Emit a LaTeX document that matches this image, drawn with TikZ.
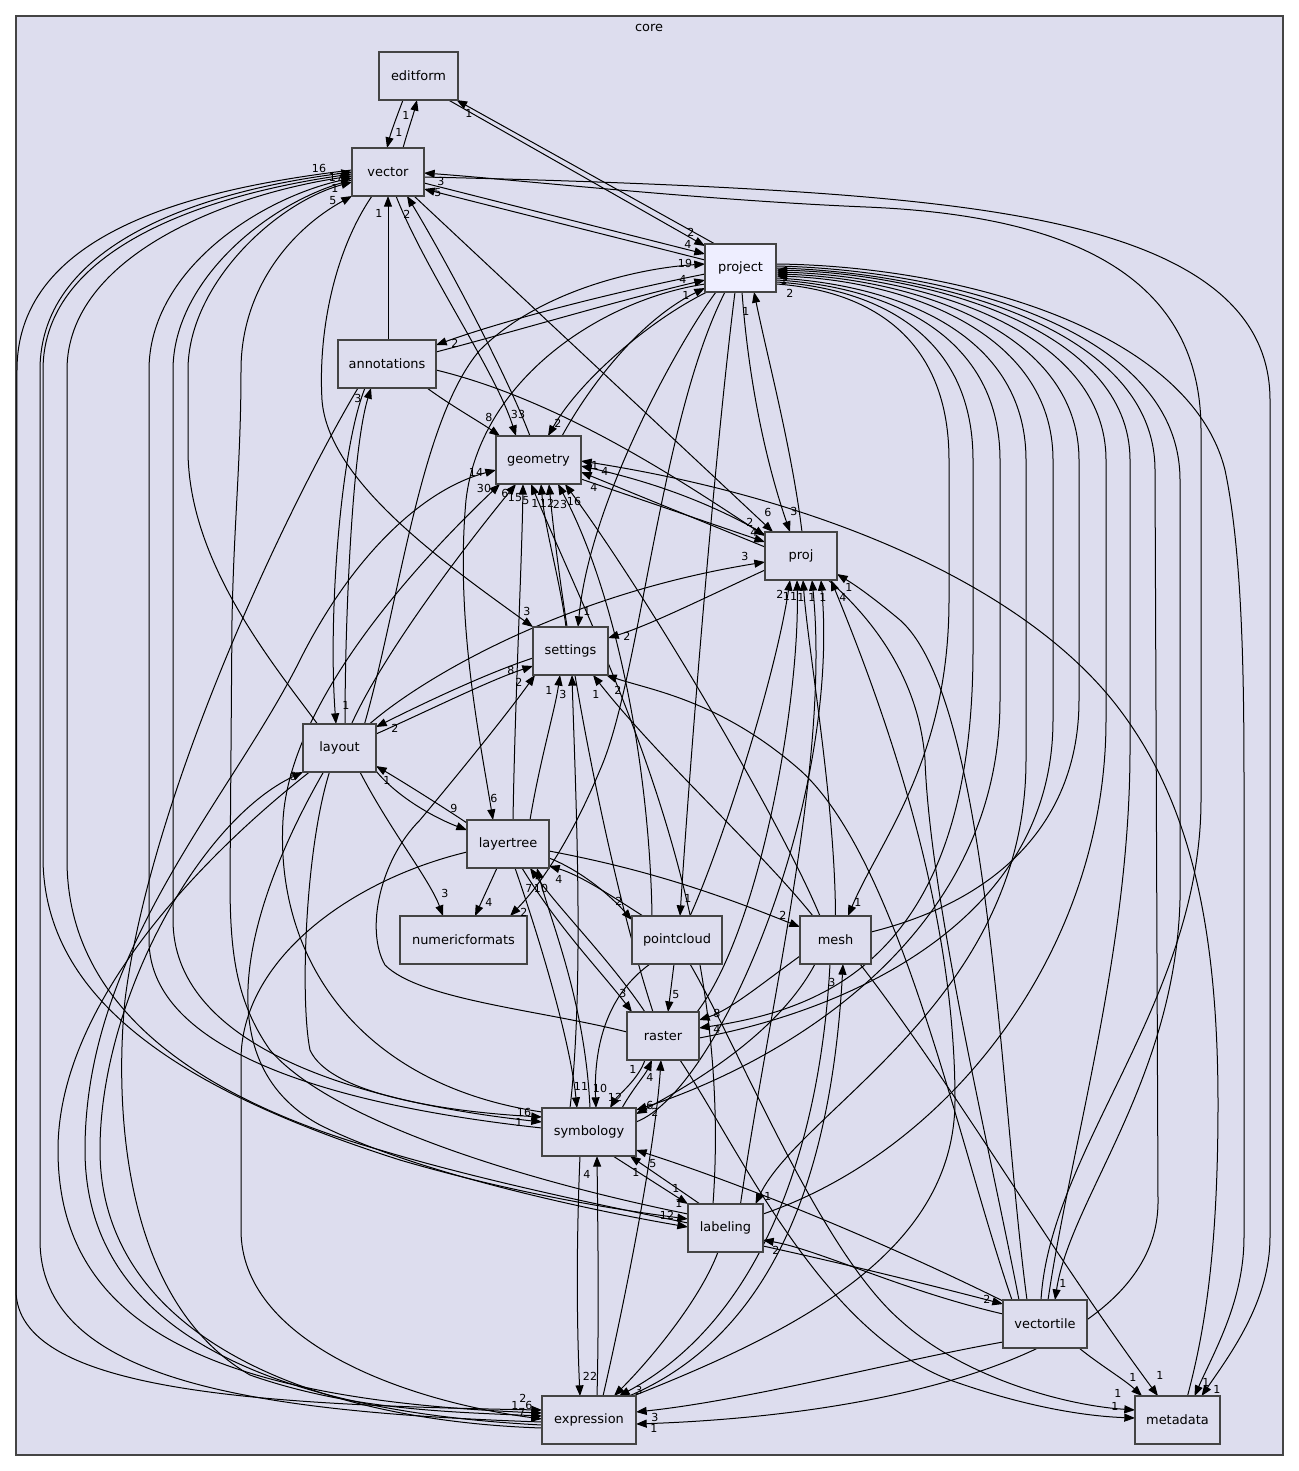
\documentclass[tikz,border=0pt]{standalone}
\usepackage{fontspec}
\setmainfont{DejaVu Sans}
\usetikzlibrary{arrows.meta,calc}
\definecolor{clfill}{HTML}{DDDDEE}
\definecolor{hifill}{HTML}{EEEEFF}
\definecolor{bord}{HTML}{444444}
\pgfdeclarelayer{back}
\pgfdeclarelayer{edges}
\pgfsetlayers{back,edges,main}
\begin{document}
\begin{tikzpicture}[x=0.75pt,y=-0.75pt,
 dirbox/.style={draw=bord,line width=1.1pt,fill=clfill,minimum width=#1,minimum height=36pt,inner sep=0pt,font=\fontsize{9.7}{11}\selectfont},
 dep/.style={line width=0.75pt,-{Triangle[length=8pt,width=6pt]}},
 lb/.style={inner sep=0pt,font=\fontsize{8.3}{9}\selectfont}]
\begin{pgfonlayer}{back}
\useasboundingbox (0,0) rectangle (1299,1471);
\fill[white] (0,0) rectangle (1299,1471);
\draw[bord,line width=1.1pt,fill=clfill] (16,16) rectangle (1283,1455);
\end{pgfonlayer}
\node[font=\fontsize{9.7}{11}\selectfont] (core) at (649,28) {core};
% nodes
\node[dirbox=59.25pt] (editform) at (418.5,76) {editform};
\node[dirbox=54pt] (vector) at (388,172) {vector};
\node[dirbox=53.25pt,fill=hifill] (project) at (740.5,268) {project};
\node[dirbox=73.5pt] (annotations) at (387,364) {annotations};
\node[dirbox=63.75pt] (geometry) at (538.5,460) {geometry};
\node[dirbox=54pt] (proj) at (801,556) {proj};
\node[dirbox=56.25pt] (settings) at (570.5,651) {settings};
\node[dirbox=54.75pt] (layout) at (339.5,748) {layout};
\node[dirbox=61.5pt] (layertree) at (508,844) {layertree};
\node[dirbox=95.25pt] (numericformats) at (463.5,940) {numericformats};
\node[dirbox=67.5pt] (pointcloud) at (677,940) {pointcloud};
\node[dirbox=53.25pt] (mesh) at (835.5,940) {mesh};
\node[dirbox=54pt] (raster) at (663,1036) {raster};
\node[dirbox=70.5pt] (symbology) at (589,1132) {symbology};
\node[dirbox=56.25pt] (labeling) at (725.5,1228) {labeling};
\node[dirbox=63pt] (vectortile) at (1045,1324) {vectortile};
\node[dirbox=70.5pt] (expression) at (589,1420) {expression};
\node[dirbox=63.75pt] (metadata) at (1177.5,1420) {metadata};
\begin{pgfonlayer}{edges}
% editform / vector / project
\draw[dep] ($(vector.center)+(15,-24)$) .. controls (408,130) and (413,116) .. ($(editform.center)+(-1.5,24)$);
\draw[dep] ($(editform.center)+(-15.5,24)$) .. controls (397,116) and (391,132) .. ($(vector.center)+(-1,-24)$);
\draw[dep] ($(project.center)+(-25.5,-24)$) -- ($(editform.center)+(38,24)$);
\draw[dep] ($(editform.center)+(30,24)$) -- ($(project.center)+(-35.5,-22)$);
\draw[dep] ($(vector.center)+(36,11)$) -- ($(project.center)+(-35.5,-14)$);
\draw[dep] ($(project.center)+(-35.5,-8)$) -- ($(vector.center)+(36,17)$);
\draw[dep] ($(vectortile.center)+(-4,-24)$) .. controls (1050,1150) and (1201,1000) .. (1201,800) -- (1201,430) .. controls (1201,270) and (1060,215) .. (866,207) .. controls (700,200) and (520,180) .. ($(vector.center)+(36,1)$);
\draw[dep] ($(vector.center)+(36,5)$) .. controls (560,180) and (740,186) .. (866,197) .. controls (1060,214) and (1270,250) .. (1270,400) -- (1270,1237) .. controls (1270,1300) and (1232,1352) .. ($(metadata.center)+(24,-24)$);
\draw[dep] ($(annotations.center)+(1,-24)$) -- ($(vector.center)+(0,24)$);
\draw[dep] ($(geometry.center)+(-8.5,-24)$) .. controls (505,370) and (440,250) .. ($(vector.center)+(19,24)$);
\draw[dep] ($(vector.center)+(8,24)$) .. controls (425,270) and (495,370) .. ($(geometry.center)+(-22.5,-24)$);
\draw[dep] ($(vector.center)+(26,24)$) -- ($(proj.center)+(-28,-24)$);
\draw[dep] ($(vector.center)+(-16,24)$) .. controls (335,250) and (318,330) .. (322,400) .. controls (328,480) and (440,560) .. ($(settings.center)+(-37.5,-24)$);
% left bundle
\draw[dep] ($(vector.center)+(-36,-2)$) .. controls (200,188) and (17,230) .. (17,370) -- (16,1290) .. controls (16,1390) and (250,1405) .. ($(expression.center)+(-47,-10)$);
\draw[dep] ($(expression.center)+(-47,2)$) .. controls (250,1412) and (40,1380) .. (40,1240) -- (40,370) .. controls (40,240) and (210,190) .. ($(vector.center)+(-36,0)$);
\draw[dep] ($(vector.center)+(-36,2)$) .. controls (215,192) and (43,245) .. (43,370) -- (43,860) .. controls (45,1000) and (180,1090) .. (400,1160) .. controls (520,1195) and (620,1210) .. ($(labeling.center)+(-37.5,-9)$);
\draw[dep] ($(labeling.center)+(-37.5,-5)$) .. controls (600,1205) and (480,1180) .. (380,1150) .. controls (170,1090) and (67,990) .. (67,860) -- (67,370) .. controls (67,255) and (230,194) .. ($(vector.center)+(-36,4)$);
\draw[dep] ($(symbology.center)+(-47,-4)$) .. controls (330,1105) and (149,1050) .. (149,940) -- (149,370) .. controls (149,270) and (260,198) .. ($(vector.center)+(-36,6)$);
\draw[dep] ($(vector.center)+(-36,8)$) .. controls (270,200) and (173,280) .. (173,370) -- (173,920) .. controls (173,1040) and (340,1100) .. ($(symbology.center)+(-47,-10)$);
\draw[dep] ($(layout.center)+(-22,-24)$) .. controls (270,660) and (188,560) .. (188,450) -- (188,370) .. controls (188,285) and (275,203) .. ($(vector.center)+(-36,10)$);
\draw[dep] ($(labeling.center)+(-37.5,-14)$) .. controls (520,1180) and (330,1120) .. (270,1050) .. controls (235,1000) and (230,950) .. (230,880) -- (232,620) .. controls (234,520) and (241,460) .. (241,370) .. controls (241,290) and (290,230) .. ($(vector.center)+(-36,24)$);
% geometry
\draw[dep] ($(annotations.center)+(40,24)$) .. controls (450,405) and (480,422) .. ($(geometry.center)+(-38.5,-24)$);
\draw[dep] ($(annotations.center)+(49,6)$) .. controls (560,400) and (680,480) .. ($(proj.center)+(-36,-20)$);
\draw[dep] ($(geometry.center)+(42.5,19)$) -- ($(proj.center)+(-36,-14)$);
\draw[dep] ($(proj.center)+(-36,-9)$) -- ($(geometry.center)+(42.5,12)$);
\draw[dep] ($(metadata.center)+(10,-24)$) .. controls (1205,1330) and (1218,1250) .. (1218,1104) .. controls (1218,900) and (1180,790) .. (1120,710) .. controls (1030,590) and (830,500) .. ($(geometry.center)+(42.5,1)$);
\draw[dep] ($(vectortile.center)+(-26,-24)$) .. controls (990,1150) and (930,900) .. (925,760) .. controls (915,620) and (780,510) .. ($(geometry.center)+(42.5,6)$);
\draw[dep] ($(layout.center)+(12,-24)$) .. controls (385,650) and (470,540) .. ($(geometry.center)+(-22.5,24)$);
\draw[dep] ($(symbology.center)+(-47,-20)$) .. controls (360,1085) and (275,960) .. (283,820) .. controls (290,700) and (420,560) .. ($(geometry.center)+(-38.5,24)$);
\draw[dep] ($(expression.center)+(-47,5)$) .. controls (250,1410) and (85,1320) .. (85,1150) .. controls (85,950) and (230,800) .. (300,660) .. controls (350,560) and (420,490) .. ($(geometry.center)+(-42.5,10)$);
\draw[dep] ($(layertree.center)+(5,-24)$) .. controls (515,700) and (522,560) .. ($(geometry.center)+(-15.5,24)$);
\draw[dep] ($(labeling.center)+(-12.5,-24)$) .. controls (735,900) and (600,650) .. ($(geometry.center)+(-7.5,24)$);
\draw[dep] ($(settings.center)+(-4.5,-24)$) .. controls (560,580) and (545,530) .. ($(geometry.center)+(2.5,24)$);
\draw[dep] ($(raster.center)+(-10,-24)$) .. controls (610,880) and (565,650) .. ($(geometry.center)+(10.5,24)$);
\draw[dep] ($(pointcloud.center)+(-25,-24)$) .. controls (650,780) and (620,600) .. ($(geometry.center)+(19.5,24)$);
\draw[dep] ($(mesh.center)+(-15.5,-24)$) .. controls (780,820) and (650,600) .. ($(geometry.center)+(26.5,24)$);
\draw[dep] ($(project.center)+(-33.5,24)$) .. controls (650,320) and (580,380) .. ($(geometry.center)+(9.5,-24)$);
\draw[dep] ($(geometry.center)+(23.5,-24)$) .. controls (590,385) and (640,320) .. ($(project.center)+(-35.5,20)$);
% project misc
\draw[dep] ($(project.center)+(-24.5,24)$) .. controls (680,340) and (590,500) .. ($(settings.center)+(7.5,-24)$);
\draw[dep] ($(project.center)+(-5.5,24)$) .. controls (715,450) and (690,760) .. ($(pointcloud.center)+(3,-24)$);
\draw[dep] ($(project.center)+(-15.5,24)$) .. controls (660,420) and (640,680) .. (600,770) .. controls (575,830) and (545,880) .. ($(numericformats.center)+(46.5,-24)$);
\draw[dep] ($(project.center)+(1.5,24)$) .. controls (750,400) and (772,480) .. ($(proj.center)+(-11,-24)$);
\draw[dep] ($(proj.center)+(1,-24)$) .. controls (792,450) and (768,360) .. ($(project.center)+(13.5,24)$);
\draw[dep] ($(project.center)+(-35.5,6)$) .. controls (600,295) and (500,322) .. ($(annotations.center)+(49,-19)$);
\draw[dep] ($(annotations.center)+(49,-12)$) .. controls (520,330) and (620,300) .. ($(project.center)+(-35.5,12)$);
\draw[dep] ($(layout.center)+(25,-24)$) .. controls (400,600) and (420,420) .. (480,350) .. controls (540,290) and (640,268) .. ($(project.center)+(-35.5,-4)$);
\draw[dep] ($(project.center)+(-35.5,16)$) .. controls (600,300) and (480,380) .. (466,500) .. controls (455,620) and (480,740) .. ($(layertree.center)+(-15,-24)$);
% settings
\draw[dep] ($(proj.center)+(-36,14)$) .. controls (700,600) and (650,625) .. ($(settings.center)+(37.5,-13)$);
\draw[dep] ($(layout.center)+(36.5,-14)$) .. controls (430,710) and (490,680) .. ($(settings.center)+(-37.5,15)$);
\draw[dep] ($(settings.center)+(-37.5,7)$) .. controls (490,672) and (430,700) .. ($(layout.center)+(36.5,-21)$);
\draw[dep] ($(raster.center)+(-36,-4)$) .. controls (540,1010) and (420,1000) .. (385,965) .. controls (365,930) and (380,860) .. (420,820) .. controls (470,760) and (510,710) .. ($(settings.center)+(-35.5,24)$);
\draw[dep] ($(layertree.center)+(22,-24)$) .. controls (540,760) and (555,710) .. ($(settings.center)+(-10.5,24)$);
\draw[dep] ($(symbology.center)+(-19,-24)$) .. controls (585,980) and (575,780) .. ($(settings.center)+(1.5,24)$);
\draw[dep] ($(mesh.center)+(-22.5,-24)$) .. controls (760,850) and (660,760) .. ($(settings.center)+(22.5,24)$);
\draw[dep] ($(vectortile.center)+(-33,-24)$) .. controls (960,1150) and (900,860) .. (800,770) .. controls (720,700) and (650,690) .. ($(settings.center)+(35.5,24)$);
% layout
\draw[dep] ($(annotations.center)+(-22,24)$) .. controls (340,450) and (328,620) .. ($(layout.center)+(-3.5,-24)$);
\draw[dep] ($(layout.center)+(5.5,-24)$) .. controls (345,620) and (352,450) .. ($(annotations.center)+(-16,24)$);
\draw[dep] ($(layertree.center)+(-41,-21)$) .. controls (440,805) and (400,780) .. ($(layout.center)+(36.5,18)$);
\draw[dep] ($(layout.center)+(36.5,23)$) .. controls (400,800) and (440,820) .. ($(layertree.center)+(-41,-14)$);
\draw[dep] ($(layout.center)+(20.5,24)$) .. controls (390,830) and (430,880) .. ($(numericformats.center)+(-20.5,-24)$);
\draw[dep] ($(expression.center)+(-47,8)$) .. controls (300,1420) and (100,1330) .. (100,1150) .. controls (100,1000) and (200,820) .. ($(layout.center)+(-36.5,24)$);
\draw[dep] ($(layout.center)+(-30,24)$) .. controls (210,850) and (58,1000) .. (58,1150) .. controls (58,1330) and (220,1400) .. ($(expression.center)+(-47,-7)$);
\draw[dep] ($(layout.center)+(-10,24)$) .. controls (305,850) and (300,1000) .. (310,1050) .. controls (330,1095) and (450,1112) .. ($(symbology.center)+(-47,-15)$);
\draw[dep] ($(layout.center)+(30,-24)$) .. controls (420,680) and (560,595) .. ($(proj.center)+(-36,6)$);
\draw[dep] ($(layout.center)+(-16,24)$) .. controls (250,900) and (200,1060) .. (320,1125) .. controls (420,1175) and (600,1212) .. ($(labeling.center)+(-37.5,-1)$);
\draw[dep] ($(annotations.center)+(-29,24)$) .. controls (280,520) and (150,800) .. (125,1000) .. controls (115,1100) and (120,1300) .. (250,1375) .. controls (350,1410) and (450,1412) .. ($(expression.center)+(-47,-4)$);
\draw[dep] ($(layertree.center)+(-41,8)$) .. controls (350,880) and (241,960) .. (241,1060) -- (241,1230) .. controls (241,1340) and (400,1400) .. ($(expression.center)+(-47,-1)$);
% layertree
\draw[dep] ($(layertree.center)+(-11,24)$) -- ($(numericformats.center)+(11.5,-24)$);
\draw[dep] ($(layertree.center)+(41,14)$) .. controls (580,870) and (610,895) .. ($(pointcloud.center)+(-45,-20)$);
\draw[dep] ($(pointcloud.center)+(-34,-24)$) .. controls (610,895) and (580,875) .. ($(layertree.center)+(41,22)$);
\draw[dep] ($(layertree.center)+(41,7)$) .. controls (650,870) and (720,895) .. ($(mesh.center)+(-35.5,-13)$);
\draw[dep] ($(layertree.center)+(14,24)$) .. controls (560,930) and (600,970) .. ($(raster.center)+(-31,-24)$);
\draw[dep] ($(raster.center)+(-18,-24)$) .. controls (610,960) and (560,910) .. ($(layertree.center)+(22,24)$);
\draw[dep] ($(symbology.center)+(1,-24)$) .. controls (585,1000) and (550,920) .. ($(layertree.center)+(29,24)$);
\draw[dep] ($(layertree.center)+(7,24)$) .. controls (540,940) and (570,1040) .. ($(symbology.center)+(-12,-24)$);
% pointcloud
\draw[dep] ($(pointcloud.center)+(-3,24)$) -- ($(raster.center)+(5,-24)$);
\draw[dep] ($(pointcloud.center)+(-27,24)$) .. controls (600,1000) and (594,1060) .. ($(symbology.center)+(7,-24)$);
\draw[dep] ($(pointcloud.center)+(13,24)$) .. controls (740,1050) and (820,1250) .. (900,1320) .. controls (960,1375) and (1060,1405) .. ($(metadata.center)+(-42.5,-10)$);
\draw[dep] ($(pointcloud.center)+(13,-24)$) .. controls (720,850) and (775,680) .. ($(proj.center)+(-11,24)$);
% mesh
\draw[dep] ($(mesh.center)+(-35.5,16)$) .. controls (760,985) and (730,1010) .. ($(raster.center)+(36,-16)$);
\draw[dep] ($(mesh.center)+(-20.5,24)$) .. controls (780,1030) and (700,1080) .. ($(symbology.center)+(47,-18)$);
\draw[dep] ($(mesh.center)+(-5.5,24)$) .. controls (820,1150) and (760,1320) .. ($(expression.center)+(30,-24)$);
\draw[dep] ($(expression.center)+(40,-24)$) .. controls (760,1340) and (830,1200) .. ($(mesh.center)+(7.5,24)$);
\draw[dep] ($(mesh.center)+(24.5,24)$) .. controls (950,1080) and (1050,1250) .. ($(metadata.center)+(-19.5,-24)$);
\draw[dep] ($(mesh.center)+(0,-24)$) .. controls (835,800) and (808,650) .. ($(proj.center)+(2,24)$);
% raster
\draw[dep] ($(raster.center)+(-18,24)$) .. controls (638,1080) and (618,1095) .. ($(symbology.center)+(21,-24)$);
\draw[dep] ($(symbology.center)+(33,-24)$) .. controls (632,1090) and (645,1075) .. ($(raster.center)+(-11,24)$);
\draw[dep] ($(expression.center)+(14,-24)$) .. controls (625,1300) and (655,1150) .. ($(raster.center)+(-2,24)$);
\draw[dep] ($(raster.center)+(17,24)$) .. controls (740,1150) and (820,1330) .. (950,1380) .. controls (1020,1405) and (1080,1416) .. ($(metadata.center)+(-42.5,-2)$);
\draw[dep] ($(raster.center)+(34,-24)$) .. controls (760,930) and (800,700) .. ($(proj.center)+(-4,24)$);
% symbology
\draw[dep] ($(symbology.center)+(-9,24)$) .. controls (576,1250) and (577,1330) .. ($(expression.center)+(-9,-24)$);
\draw[dep] ($(expression.center)+(8,-24)$) .. controls (599,1320) and (598,1240) .. ($(symbology.center)+(8,24)$);
\draw[dep] ($(symbology.center)+(24,24)$) -- ($(labeling.center)+(-37.5,-24)$);
\draw[dep] ($(labeling.center)+(-25.5,-24)$) -- ($(symbology.center)+(41,24)$);
\draw[dep] ($(vectortile.center)+(-42,-23)$) .. controls (900,1250) and (760,1190) .. ($(symbology.center)+(47,18)$);
\draw[dep] ($(symbology.center)+(47,-10)$) .. controls (720,1090) and (840,800) .. ($(proj.center)+(20,24)$);
% labeling
\draw[dep] ($(vectortile.center)+(-42,-10)$) .. controls (900,1290) and (820,1250) .. ($(labeling.center)+(37.5,12)$);
\draw[dep] ($(labeling.center)+(37.5,18)$) .. controls (850,1265) and (930,1285) .. ($(vectortile.center)+(-42,-20)$);
\draw[dep] ($(labeling.center)+(-7.5,24)$) .. controls (700,1300) and (650,1360) .. ($(expression.center)+(25,-24)$);
\draw[dep] ($(labeling.center)+(15,-24)$) .. controls (770,1000) and (830,760) .. ($(proj.center)+(11,24)$);
% vectortile
\draw[dep] ($(vectortile.center)+(-42,18)$) .. controls (900,1360) and (750,1400) .. ($(expression.center)+(47,-8)$);
\draw[dep] ($(vectortile.center)+(34,24)$) .. controls (1100,1365) and (1125,1380) .. ($(metadata.center)+(-35.5,-24)$);
\draw[dep] ($(vectortile.center)+(-18,-24)$) .. controls (1000,1100) and (990,700) .. (900,620) .. controls (870,595) and (855,585) .. ($(proj.center)+(36,18)$);
\draw[dep] ($(expression.center)+(44,-24)$) .. controls (800,1330) and (955,1250) .. (955,1100) .. controls (955,900) and (880,700) .. ($(proj.center)+(30,24)$);
% project right side
\draw[dep] ($(project.center)+(36,16)$) .. controls (860,290) and (949,330) .. (949,460) -- (949,600) .. controls (949,760) and (880,840) .. ($(mesh.center)+(12.5,-24)$);
\draw[dep] ($(project.center)+(36,14)$) .. controls (870,288) and (973,330) .. (973,460) -- (973,650) .. controls (973,960) and (820,1010) .. ($(raster.center)+(36,-8)$);
\draw[dep] ($(project.center)+(36,12)$) .. controls (880,286) and (1000,330) .. (1000,460) -- (1000,700) .. controls (1000,950) and (760,1070) .. ($(symbology.center)+(47,-22)$);
\draw[dep] ($(project.center)+(36,10)$) .. controls (890,284) and (1026,330) .. (1026,460) -- (1026,760) .. controls (1026,1000) and (800,1110) .. ($(labeling.center)+(30,-24)$);
\draw[dep] ($(raster.center)+(36,2)$) .. controls (850,1010) and (1053,920) .. (1053,720) -- (1053,460) .. controls (1053,330) and (900,280) .. ($(project.center)+(36,8)$);
\draw[dep] ($(mesh.center)+(35.5,-8)$) .. controls (1000,900) and (1079,820) .. (1079,700) -- (1079,460) .. controls (1079,330) and (910,278) .. ($(project.center)+(36,6)$);
\draw[dep] ($(labeling.center)+(37.5,-14)$) .. controls (950,1150) and (1106,950) .. (1106,720) -- (1106,460) .. controls (1106,330) and (920,276) .. ($(project.center)+(36,4)$);
\draw[dep] ($(vectortile.center)+(3,-24)$) .. controls (1070,1150) and (1130,950) .. (1130,750) -- (1130,460) .. controls (1130,330) and (930,274) .. ($(project.center)+(36,2)$);
\draw[dep] ($(project.center)+(36,0)$) .. controls (940,272) and (1155,330) .. (1155,470) -- (1158,1200) .. controls (1160,1350) and (900,1415) .. ($(expression.center)+(47,4)$);
\draw[dep] ($(project.center)+(36,-2)$) .. controls (950,270) and (1180,330) .. (1180,480) -- (1180,900) .. controls (1175,1080) and (1070,1200) .. ($(vectortile.center)+(10,-24)$);
\draw[dep] ($(project.center)+(36,-4)$) .. controls (960,266) and (1190,330) .. (1225,470) .. controls (1244,560) and (1244,700) .. (1244,800) -- (1244,1237) .. controls (1244,1300) and (1215,1350) .. ($(metadata.center)+(17,-24)$);
\end{pgfonlayer}
% labels
\node[lb] (n1) at (406,115) {1};
\node[lb] (n2) at (399,132) {1};
\node[lb] (n3) at (469,113) {1};
\node[lb] (n4) at (691,232) {2};
\node[lb] (n5) at (688,244) {4};
\node[lb] (n6) at (438,193) {5};
\node[lb] (n7) at (441,181) {3};
\node[lb] (n8) at (1217,1389) {1};
\node[lb] (n9) at (379,213) {1};
\node[lb] (n10) at (407,214) {2};
\node[lb] (n11) at (518,414) {33};
\node[lb] (n12) at (768,512) {6};
\node[lb] (n13) at (527,611) {3};
\node[lb] (n14) at (515,1405) {1};
\node[lb] (n15) at (335,188) {1};
\node[lb] (n16) at (679,1203) {1};
\node[lb] (n17) at (336,177) {17};
\node[lb] (n18) at (319,168) {16};
\node[lb] (n19) at (524,1112) {16};
\node[lb] (n21) at (333,201) {5};
\node[lb] (n22) at (489,417) {8};
\node[lb] (n23) at (750,522) {2};
\node[lb] (n24) at (754,532) {4};
\node[lb] (n25) at (594,487) {4};
\node[lb] (n26) at (595,465) {1};
\node[lb] (n27) at (605,471) {4};
\node[lb] (n28) at (505,493) {6};
\node[lb] (n29) at (484,488) {30};
\node[lb] (n30) at (476,472) {14};
\node[lb] (n31) at (515,498) {15};
\node[lb] (n32) at (526,501) {5};
\node[lb] (n33) at (535,503) {1};
\node[lb] (n34) at (547,503) {12};
\node[lb] (n35) at (560,504) {23};
\node[lb] (n36) at (574,501) {16};
\node[lb] (n37) at (558,423) {2};
\node[lb] (n38) at (686,295) {1};
\node[lb] (n39) at (587,611) {1};
\node[lb] (n40) at (688,898) {1};
\node[lb] (n41) at (524,912) {2};
\node[lb] (n42) at (794,511) {3};
\node[lb] (n43) at (746,311) {1};
\node[lb] (n44) at (455,343) {2};
\node[lb] (n45) at (683,279) {4};
\node[lb] (n46) at (685,263) {19};
\node[lb] (n47) at (494,798) {6};
\node[lb] (n49) at (627,636) {2};
\node[lb] (n50) at (511,670) {8};
\node[lb] (n51) at (395,728) {2};
\node[lb] (n52) at (519,682) {2};
\node[lb] (n53) at (549,690) {1};
\node[lb] (n54) at (563,694) {3};
\node[lb] (n55) at (596,694) {1};
\node[lb] (n56) at (618,690) {2};
\node[lb] (n57) at (346,705) {1};
\node[lb] (n58) at (358,398) {3};
\node[lb] (n59) at (387,780) {1};
\node[lb] (n60) at (454,808) {9};
\node[lb] (n61) at (445,893) {3};
\node[lb] (n62) at (293,776) {6};
\node[lb] (n63) at (523,1398) {2};
\node[lb] (n64) at (519,1122) {1};
\node[lb] (n65) at (745,556) {3};
\node[lb] (n66) at (667,1215) {12};
\node[lb] (n67) at (522,1412) {7};
\node[lb] (n68) at (529,1405) {6};
\node[lb] (n69) at (489,902) {4};
\node[lb] (n70) at (619,901) {2};
\node[lb] (n71) at (559,879) {4};
\node[lb] (n72) at (783,915) {2};
\node[lb] (n73) at (623,993) {3};
\node[lb] (n74) at (529,888) {7};
\node[lb] (n75) at (541,888) {10};
\node[lb] (n76) at (581,1086) {11};
\node[lb] (n77) at (676,995) {5};
\node[lb] (n78) at (600,1088) {10};
\node[lb] (n79) at (1118,1393) {1};
\node[lb] (n80) at (780,594) {2};
\node[lb] (n81) at (717,1013) {8};
\node[lb] (n82) at (655,1112) {2};
\node[lb] (n83) at (639,1390) {3};
\node[lb] (n84) at (832,982) {3};
\node[lb] (n85) at (1160,1375) {1};
\node[lb] (n86) at (801,597) {1};
\node[lb] (n87) at (615,1097) {12};
\node[lb] (n88) at (633,1069) {1};
\node[lb] (n89) at (650,1077) {4};
\node[lb] (n90) at (1115,1406) {1};
\node[lb] (n91) at (790,596) {11};
\node[lb] (n92) at (590,1376) {22};
\node[lb] (n93) at (587,1174) {4};
\node[lb] (n94) at (676,1188) {1};
\node[lb] (n95) at (636,1172) {1};
\node[lb] (n96) at (653,1164) {5};
\node[lb] (n97) at (823,597) {1};
\node[lb] (n98) at (776,1250) {2};
\node[lb] (n99) at (987,1299) {2};
\node[lb] (n101) at (812,597) {1};
\node[lb] (n102) at (655,1417) {3};
\node[lb] (n103) at (1133,1377) {1};
\node[lb] (n104) at (849,587) {1};
\node[lb] (n105) at (843,597) {4};
\node[lb] (n106) at (858,902) {1};
\node[lb] (n107) at (717,1029) {4};
\node[lb] (n108) at (650,1105) {6};
\node[lb] (n109) at (768,1196) {1};
\node[lb] (n110) at (790,293) {2};
\node[lb] (n113) at (784,280) {1};
\node[lb] (n114) at (654,1428) {1};
\node[lb] (n115) at (1063,1283) {1};
\node[lb] (n116) at (1206,1382) {1};
\end{tikzpicture}
\end{document}
